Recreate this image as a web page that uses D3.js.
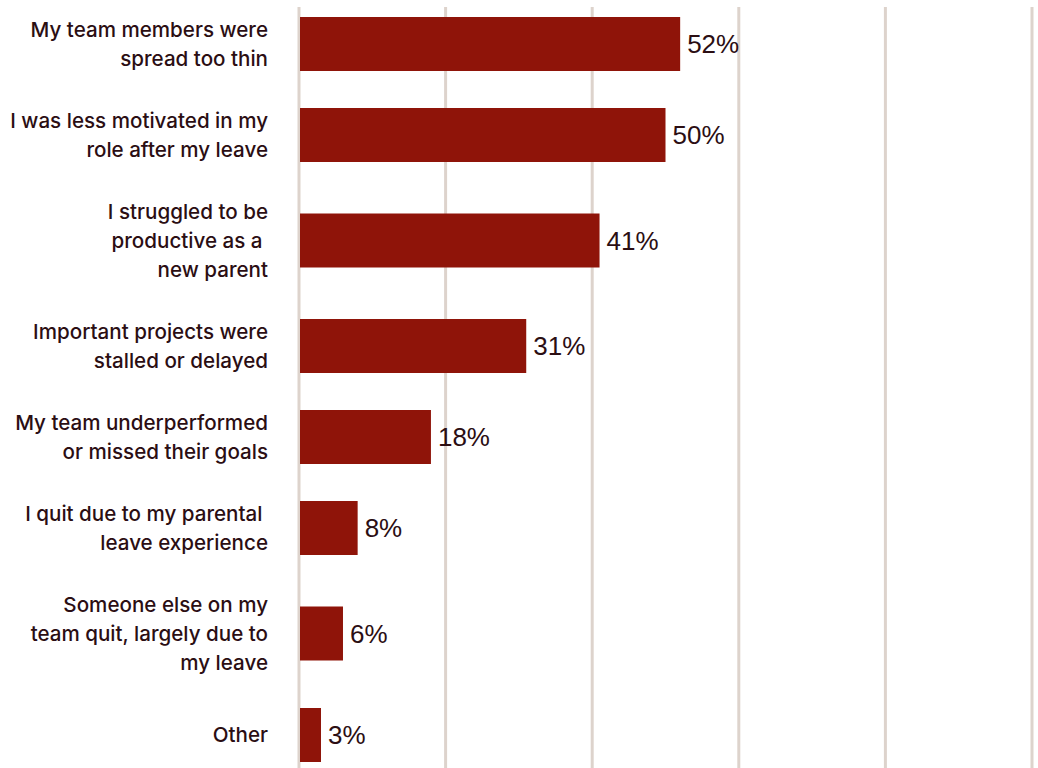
<!DOCTYPE html>
<html>
<head>
<meta charset="utf-8">
<script src="https://cdn.jsdelivr.net/npm/d3@7"></script>
<style>
  html, body { margin: 0; padding: 0; background: #ffffff; }
  svg { display: block; }
</style>
</head>
<body>
<svg id="chart" width="1038" height="768"></svg>
<script>
// Survey responses: share of respondents (%) per outcome
const categories = [
  ["My team members were", "spread too thin"],
  ["I was less motivated in my", "role after my leave"],
  ["I struggled to be", "productive as a ", "new parent"],
  ["Important projects were", "stalled or delayed"],
  ["My team underperformed", "or missed their goals"],
  ["I quit due to my parental ", "leave experience"],
  ["Someone else on my", "team quit, largely due to", "my leave"],
  ["Other"]
];
const values = [52, 50, 41, 31, 18, 8, 6, 3];
const gridTicks = [0, 20, 40, 60, 80, 100];

const W = 1038, H = 768;
const svg = d3.select("#chart");

const barColor = "#8f1409";
const textColor = "#2b0e13";
const gridColor = "#ddd3cc";

const x = d3.scaleLinear().domain([0, 100]).range([299, 1032]);

// Row layout: each row is tall enough for its wrapped label
const lineH = 29;
const rowH = categories.map(lines => Math.max(lines.length * lineH + 33, 83));
const rowStart = d3.cumsum([0].concat(rowH)).slice(0, rowH.length);
const yTop = -1.5;
const y = d3.scaleOrdinal()
  .domain(d3.range(categories.length))
  .range(rowStart.map((s, i) => yTop + s + rowH[i] / 2));
const barH = 54;

// vertical gridlines
svg.append("g")
  .selectAll("line")
  .data(gridTicks)
  .join("line")
  .attr("x1", d => x(d))
  .attr("x2", d => x(d))
  .attr("y1", 7)
  .attr("y2", H)
  .attr("stroke", gridColor)
  .attr("stroke-width", 3);

// bars
svg.append("g")
  .selectAll("rect")
  .data(values)
  .join("rect")
  .attr("x", x(0) + 1)
  .attr("y", (d, i) => y(i) - barH / 2)
  .attr("width", d => x(d) - x(0) - 1)
  .attr("height", barH)
  .attr("fill", barColor);

// value labels
svg.append("g")
  .selectAll("text")
  .data(values)
  .join("text")
  .attr("x", d => x(d) + 7)
  .attr("y", (d, i) => y(i))
  .attr("dy", "0.36em")
  .attr("font-family", "'Liberation Sans', Arial, sans-serif")
  .attr("font-size", 26)
  .attr("fill", textColor)
  .text(d => d + "%");

// category labels, right-aligned and centred on each bar
const lab = svg.append("g")
  .selectAll("text")
  .data(categories)
  .join("text")
  .attr("x", 268)
  .attr("text-anchor", "end")
  .attr("font-family", "Inter, 'Noto Sans', sans-serif")
  .attr("font-weight", 500)
  .attr("font-size", 20.6)
  .attr("fill", textColor)
  .style("white-space", "pre");

lab.each(function(lines, i) {
  const t = d3.select(this);
  const first = y(i) - (lines.length - 1) * lineH / 2;
  lines.forEach((ln, j) => {
    t.append("tspan")
      .attr("x", 268)
      .attr("y", first + j * lineH)
      .attr("dy", "0.36em")
      .text(ln);
  });
});
</script>
</body>
</html>
